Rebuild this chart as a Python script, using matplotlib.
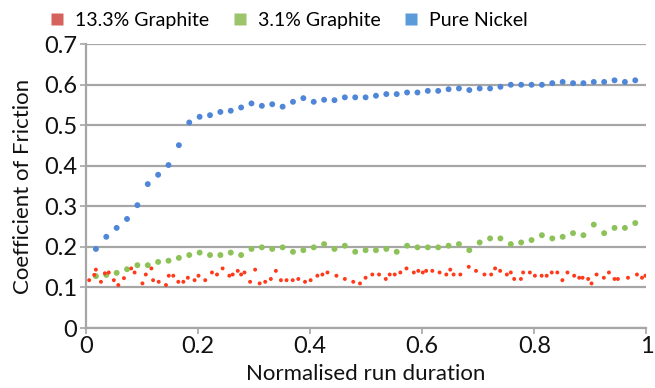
import matplotlib
matplotlib.use("Agg")
import matplotlib.pyplot as plt
from matplotlib.lines import Line2D
from matplotlib.ticker import FuncFormatter

plt.rcParams['font.family'] = ['Lato', 'DejaVu Sans']

# Pure Nickel and 3.1% Graphite share the same sample positions
step_x = [0.018 + 0.0185 * i for i in range(53)]

nickel = [0.195, 0.225, 0.247, 0.269, 0.303, 0.355, 0.378, 0.402, 0.451, 0.507,
          0.521, 0.525, 0.533, 0.536, 0.544, 0.554, 0.548, 0.552, 0.546, 0.558,
          0.567, 0.558, 0.563, 0.562, 0.569, 0.569, 0.569, 0.573, 0.577, 0.577,
          0.581, 0.581, 0.585, 0.585, 0.589, 0.591, 0.587, 0.591, 0.591, 0.595,
          0.600, 0.600, 0.600, 0.600, 0.604, 0.607, 0.604, 0.604, 0.607, 0.607,
          0.611, 0.607, 0.611]

graphite_3 = [0.128, 0.131, 0.136, 0.145, 0.155, 0.155, 0.163, 0.166, 0.173, 0.180,
              0.186, 0.180, 0.180, 0.186, 0.180, 0.195, 0.199, 0.195, 0.199, 0.188,
              0.192, 0.199, 0.207, 0.195, 0.203, 0.188, 0.192, 0.192, 0.195, 0.188,
              0.203, 0.199, 0.199, 0.199, 0.203, 0.207, 0.192, 0.211, 0.221, 0.221,
              0.207, 0.211, 0.217, 0.229, 0.221, 0.225, 0.234, 0.229, 0.255, 0.234,
              0.247, 0.247, 0.259]

# 13.3% Graphite was logged more often
g13_x = [0.006, 0.015, 0.018, 0.027, 0.034, 0.041, 0.050, 0.058, 0.068, 0.081,
         0.087, 0.101, 0.107, 0.117, 0.120, 0.130, 0.143, 0.148, 0.156, 0.165,
         0.174, 0.182, 0.194, 0.201, 0.213, 0.225, 0.234, 0.244, 0.256, 0.262,
         0.271, 0.277, 0.283, 0.293, 0.302, 0.310, 0.320, 0.330, 0.339, 0.348,
         0.358, 0.369, 0.379, 0.391, 0.401, 0.413, 0.422, 0.431, 0.447, 0.462,
         0.477, 0.489, 0.499, 0.511, 0.523, 0.535, 0.542, 0.551, 0.561, 0.572,
         0.585, 0.593, 0.601, 0.607, 0.618, 0.631, 0.643, 0.650, 0.656, 0.668,
         0.683, 0.696, 0.711, 0.723, 0.730, 0.739, 0.751, 0.758, 0.764, 0.776,
         0.780, 0.792, 0.801, 0.813, 0.822, 0.831, 0.841, 0.850, 0.859, 0.871,
         0.880, 0.886, 0.896, 0.902, 0.911, 0.924, 0.933, 0.943, 0.949, 0.967,
         0.983, 0.992, 0.998]
g13_y = [0.118, 0.131, 0.144, 0.114, 0.135, 0.137, 0.118, 0.106, 0.123, 0.147,
         0.137, 0.110, 0.132, 0.147, 0.118, 0.114, 0.106, 0.129, 0.129, 0.114,
         0.114, 0.124, 0.118, 0.129, 0.118, 0.137, 0.132, 0.147, 0.129, 0.132,
         0.141, 0.132, 0.137, 0.114, 0.144, 0.110, 0.114, 0.121, 0.141, 0.118,
         0.118, 0.118, 0.121, 0.114, 0.118, 0.129, 0.132, 0.137, 0.129, 0.121,
         0.114, 0.110, 0.124, 0.132, 0.132, 0.121, 0.132, 0.132, 0.137, 0.147,
         0.137, 0.141, 0.137, 0.141, 0.141, 0.137, 0.132, 0.144, 0.132, 0.132,
         0.151, 0.141, 0.132, 0.132, 0.147, 0.141, 0.132, 0.137, 0.121, 0.121,
         0.137, 0.137, 0.129, 0.129, 0.129, 0.137, 0.137, 0.118, 0.137, 0.129,
         0.124, 0.124, 0.121, 0.110, 0.132, 0.124, 0.137, 0.121, 0.121, 0.124,
         0.132, 0.124, 0.129]

series_names = ["13.3% Graphite", "3.1% Graphite", "Pure Nickel"]
marker_colors = ["#ff3a1a", "#8cc257", "#4f86d8"]
legend_colors = ["#d5625c", "#9cc46a", "#5b9bd8"]

fig = plt.figure(figsize=(6.55, 3.88), dpi=100)
ax = fig.add_axes([0.131, 0.1546, 0.856, 0.7314])

grid_col = "#a6a6a6"
ax.scatter(step_x, nickel, s=18, color=marker_colors[2], edgecolors="none", zorder=3)
ax.scatter(step_x, graphite_3, s=18, color=marker_colors[1], edgecolors="none", zorder=3)
ax.scatter(g13_x, g13_y, s=8, color=marker_colors[0], edgecolors="none", zorder=4)

ax.set_xlim(0, 1)
ax.set_ylim(0, 0.7)
ax.set_xticks([0, 0.2, 0.4, 0.6, 0.8, 1.0])
ax.set_yticks([0, 0.1, 0.2, 0.3, 0.4, 0.5, 0.6, 0.7])
fmt = FuncFormatter(lambda v, p: f"{v:g}")
ax.xaxis.set_major_formatter(fmt)
ax.yaxis.set_major_formatter(fmt)

ax.grid(axis="y", color=grid_col, linewidth=1.6, zorder=1)
ax.set_axisbelow(True)
for side in ["top", "right"]:
    ax.spines[side].set_visible(False)
for side in ["left", "bottom"]:
    ax.spines[side].set_color(grid_col)
    ax.spines[side].set_linewidth(1.6)

ax.tick_params(axis="both", colors=grid_col, labelcolor="#111111",
               labelsize=17, length=4, width=1.2, pad=2)

ax.set_xlabel("Normalised run duration", fontsize=16, color="#111111", labelpad=5)
ax.set_ylabel("Coefficient of Friction", fontsize=16, color="#111111", labelpad=8)

handles = [Line2D([], [], linestyle="none", marker="s", markersize=9,
                  markerfacecolor=c, markeredgecolor="none") for c in legend_colors]
fig.legend(handles, series_names, loc="upper center", bbox_to_anchor=(0.44, 1.015),
           ncol=3, frameon=False, fontsize=14, handletextpad=0.5,
           columnspacing=1.1, handlelength=0.9)

fig.savefig("out.png", dpi=100)
